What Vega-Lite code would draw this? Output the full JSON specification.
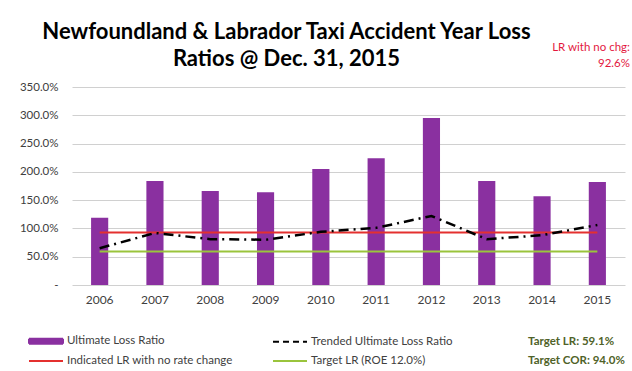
{
  "$schema": "https://vega.github.io/schema/vega-lite/v6.json",
  "width": 553,
  "height": 198,
  "autosize": {"type": "none"},
  "padding": {"left": 72, "top": 87, "right": 7, "bottom": 86},
  "background": "white",
  "config": {"view": {"stroke": null}, "font": "Lato"},
  "title": {
    "text": ["Newfoundland & Labrador Taxi Accident Year Loss", "Ratios @ Dec. 31, 2015"],
    "font": "Lato", "fontSize": 22, "fontWeight": "bold", "color": "#000000",
    "anchor": "middle", "dx": -62, "dy": 43, "lineHeight": 27, "offset": 14
  },
  "data": {"values": [
    {"year": "2006", "ulr": 119, "trended": 65, "indicated": 92.6, "target": 59.1},
    {"year": "2007", "ulr": 184, "trended": 92, "indicated": 92.6, "target": 59.1},
    {"year": "2008", "ulr": 166, "trended": 81, "indicated": 92.6, "target": 59.1},
    {"year": "2009", "ulr": 164, "trended": 80, "indicated": 92.6, "target": 59.1},
    {"year": "2010", "ulr": 205, "trended": 94, "indicated": 92.6, "target": 59.1},
    {"year": "2011", "ulr": 224, "trended": 101, "indicated": 92.6, "target": 59.1},
    {"year": "2012", "ulr": 295, "trended": 122, "indicated": 92.6, "target": 59.1},
    {"year": "2013", "ulr": 184, "trended": 81, "indicated": 92.6, "target": 59.1},
    {"year": "2014", "ulr": 157, "trended": 88, "indicated": 92.6, "target": 59.1},
    {"year": "2015", "ulr": 182, "trended": 106, "indicated": 92.6, "target": 59.1}
  ]},
  "layer": [
    {
      "mark": {"type": "bar"},
      "encoding": {
        "x": {"field": "year", "type": "ordinal",
          "scale": {"paddingInner": 0.69, "paddingOuter": 0.345},
          "axis": {"title": null, "labelAngle": 0, "domain": false, "ticks": false, "grid": false,
            "labelPadding": 9, "labelFont": "Lato", "labelFontSize": 12, "labelColor": "#404040"}},
        "y": {"field": "ulr", "type": "quantitative",
          "scale": {"domain": [0, 350], "nice": false},
          "axis": {"title": null, "values": [0, 50, 100, 150, 200, 250, 300, 350],
            "labelExpr": "datum.value === 0 ? '-\u00a0\u00a0\u00a0' : format(datum.value, '.1f') + '%'",
            "labelOverlap": false,
            "domain": false, "ticks": false, "labelPadding": 14, "gridColor": "#d0d0d0",
            "labelFont": "Lato", "labelFontSize": 11.5, "labelColor": "#404040"}},
        "color": {"datum": "Ultimate Loss Ratio", "type": "nominal"}
      }
    },
    {
      "mark": {"type": "line", "strokeWidth": 2},
      "encoding": {
        "x": {"field": "year", "type": "ordinal"},
        "y": {"field": "indicated", "type": "quantitative",
          "axis": {"title": null, "values": [0, 50, 100, 150, 200, 250, 300, 350],
            "labelExpr": "datum.value === 0 ? '-\u00a0\u00a0\u00a0' : format(datum.value, '.1f') + '%'",
            "labelOverlap": false,
            "domain": false, "ticks": false, "labelPadding": 14, "gridColor": "#d0d0d0",
            "labelFont": "Lato", "labelFontSize": 11.5, "labelColor": "#404040"}},
        "color": {"datum": "Indicated LR with no rate change", "type": "nominal"}
      }
    },
    {
      "mark": {"type": "line", "strokeWidth": 2},
      "encoding": {
        "x": {"field": "year", "type": "ordinal"},
        "y": {"field": "target", "type": "quantitative",
          "axis": {"title": null, "values": [0, 50, 100, 150, 200, 250, 300, 350],
            "labelExpr": "datum.value === 0 ? '-\u00a0\u00a0\u00a0' : format(datum.value, '.1f') + '%'",
            "labelOverlap": false,
            "domain": false, "ticks": false, "labelPadding": 14, "gridColor": "#d0d0d0",
            "labelFont": "Lato", "labelFontSize": 11.5, "labelColor": "#404040"}},
        "color": {"datum": "Target LR (ROE 12.0%)", "type": "nominal"}
      }
    },
    {
      "mark": {"type": "line", "strokeWidth": 2.5, "strokeDash": [10, 5, 2, 5]},
      "encoding": {
        "x": {"field": "year", "type": "ordinal"},
        "y": {"field": "trended", "type": "quantitative",
          "axis": {"title": null, "values": [0, 50, 100, 150, 200, 250, 300, 350],
            "labelExpr": "datum.value === 0 ? '-\u00a0\u00a0\u00a0' : format(datum.value, '.1f') + '%'",
            "labelOverlap": false,
            "domain": false, "ticks": false, "labelPadding": 14, "gridColor": "#d0d0d0",
            "labelFont": "Lato", "labelFontSize": 11.5, "labelColor": "#404040"}},
        "color": {"datum": "Trended Ultimate Loss Ratio", "type": "nominal",
          "scale": {
            "domain": ["Ultimate Loss Ratio", "Indicated LR with no rate change", "Trended Ultimate Loss Ratio", "Target LR (ROE 12.0%)", "Target LR: 59.1%", "Target COR: 94.0%"],
            "range": ["#8a30a0", "#e4302f", "#000000", "#9ac43c", "#ffffff", "#ffffff"]
          },
          "legend": {
            "title": null, "orient": "none", "legendX": -44, "legendY": 248,
            "columns": 3, "columnPadding": 36, "rowPadding": 7,
            "symbolSize": 100, "symbolStrokeWidth": 2, "labelOffset": 27,
            "labelFont": "Lato", "labelFontSize": 11.5, "labelColor": "#404040", "labelLimit": 300,
            "encode": {
              "symbols": {"update": {
                "shape": {"signal": "datum.value === 'Ultimate Loss Ratio' ? 'M-1,-0.5H5.8V0.5H-1Z' : 'M-1,0H5.8'"},
                "fill": {"signal": "datum.value === 'Ultimate Loss Ratio' ? '#8a30a0' : 'transparent'"},
                "stroke": {"signal": "datum.value === 'Ultimate Loss Ratio' ? 'transparent' : scale('color', datum.value)"},
                "strokeWidth": {"value": 2},
                "strokeDash": {"signal": "datum.value === 'Trended Ultimate Loss Ratio' ? [6, 4] : [1, 0]"},
                "opacity": {"signal": "indexof(['Target LR: 59.1%', 'Target COR: 94.0%'], datum.value) >= 0 ? 0 : 1"}
              }},
              "labels": {"update": {
                "fill": {"signal": "indexof(['Target LR: 59.1%', 'Target COR: 94.0%'], datum.value) >= 0 ? '#4f6228' : '#404040'"},
                "fontWeight": {"signal": "indexof(['Target LR: 59.1%', 'Target COR: 94.0%'], datum.value) >= 0 ? 'bold' : 'normal'"}
              }}
            }
          }
        }
      }
    },
    {
      "data": {"values": [{"note": "LR with no chg:"}]},
      "mark": {"type": "text", "text": ["LR with no chg:", "92.6%"], "align": "right", "baseline": "alphabetic",
        "lineHeight": 16, "font": "Lato", "fontSize": 11.5, "color": "#e3173e", "dx": 24},
      "encoding": {
        "x": {"datum": "2015", "type": "ordinal", "bandPosition": 1},
        "y": {"datum": 413, "type": "quantitative",
          "axis": {"title": null, "values": [0, 50, 100, 150, 200, 250, 300, 350],
            "labelExpr": "datum.value === 0 ? '-\u00a0\u00a0\u00a0' : format(datum.value, '.1f') + '%'",
            "labelOverlap": false,
            "domain": false, "ticks": false, "labelPadding": 14, "gridColor": "#d0d0d0",
            "labelFont": "Lato", "labelFontSize": 11.5, "labelColor": "#404040"}}
      }
    }
  ]
}
